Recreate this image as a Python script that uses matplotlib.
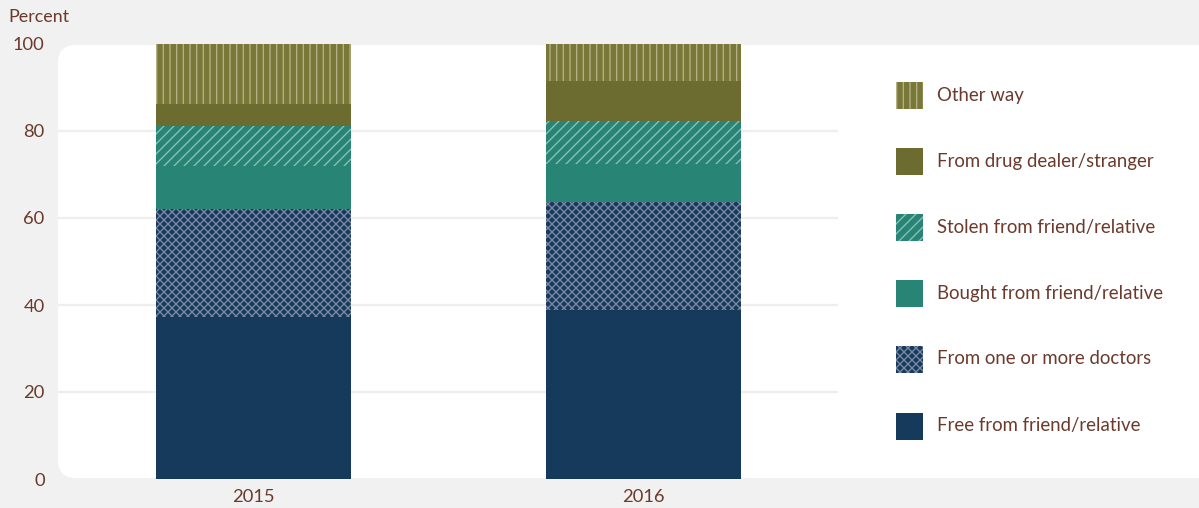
import numpy as np
import matplotlib
matplotlib.use("Agg")
import matplotlib.pyplot as plt
from matplotlib.patches import FancyBboxPatch, Rectangle
from matplotlib.transforms import IdentityTransform

years = ['2015', '2016']
categories = ['Free from friend/relative', 'From one or more doctors',
              'Bought from friend/relative', 'Stolen from friend/relative',
              'From drug dealer/stranger', 'Other way']
free_friend = [37.3, 38.9]
doctors = [24.8, 24.7]
bought_friend = [9.9, 8.8]
stolen_friend = [9.1, 9.8]
dealer = [5.1, 9.4]
other_way = [13.8, 8.4]

series = [free_friend, doctors, bought_friend, stolen_friend, dealer, other_way]
colors = ['#163a5c', '#163a5c', '#288575', '#288575', '#6d6c30', '#7a7838']
hatches = [None, 'xxxxx', None, '////', None, '|||']
hatch_colors = ['#163a5c', '#7f8aa6', '#288575', '#8fc0b6', '#6d6c30', '#b3b085']

text_col = '#6b3a2c'
bg = '#f0f1f0'
DPI = 120
W, H = 1199, 508

plt.rcParams['font.family'] = ['Lato', 'DejaVu Sans']
plt.rcParams['hatch.linewidth'] = 0.8

fig = plt.figure(figsize=(W / DPI, H / DPI), dpi=DPI, facecolor=bg)

# white rounded panel (pixel coords, origin bottom-left)
panel = FancyBboxPatch((58, H - 478), 1180, 433, boxstyle='round,pad=0,rounding_size=18',
                       transform=IdentityTransform(), facecolor='white', edgecolor='none', zorder=-5)
fig.patches.append(panel)

ax = fig.add_axes([58 / W, 1 - 479 / H, (838 - 58) / W, (479 - 44) / H])
ax.set_facecolor('none')
ax.set_axisbelow(True)
ax.set_zorder(1)

x = np.arange(len(years))
bottom = np.zeros(len(years))
for vals, c, h, hc in zip(series, colors, hatches, hatch_colors):
    ax.bar(x, vals, width=0.5, bottom=bottom, color=c, hatch=h,
           edgecolor=hc, linewidth=0, zorder=2)
    bottom += np.array(vals)

ax.set_xlim(-0.5, 1.5)
ax.set_ylim(0, 100)
ax.set_yticks([0, 20, 40, 60, 80, 100])
ax.set_xticks(x)
ax.set_xticklabels(years)
for gy in [20, 40, 60, 80]:
    ax.axhline(gy, color='#eeeeee', linewidth=1.4, zorder=1)
for s in ax.spines.values():
    s.set_visible(False)
ax.tick_params(axis='y', length=0, pad=8, labelsize=11, labelcolor=text_col)
ax.tick_params(axis='x', length=0, pad=6, labelsize=11, labelcolor=text_col)

fig.text(8 / W, 1 - 17 / H, 'Percent', fontsize=10.7, color=text_col, va='center', ha='left')

# legend, top to bottom
leg_y = [95, 161, 227, 293, 359, 426]
for i, k in enumerate(range(len(categories) - 1, -1, -1)):
    yc = H - leg_y[i]
    r = Rectangle((896, yc - 13.5), 27, 27, transform=IdentityTransform(),
                  facecolor=colors[k], edgecolor=hatch_colors[k], hatch=hatches[k], linewidth=0)
    fig.patches.append(r)
    fig.text(937 / W, yc / H, categories[k], fontsize=11.2, color=text_col,
             va='center', ha='left')

fig.savefig('out.png', dpi=DPI, facecolor=bg)
